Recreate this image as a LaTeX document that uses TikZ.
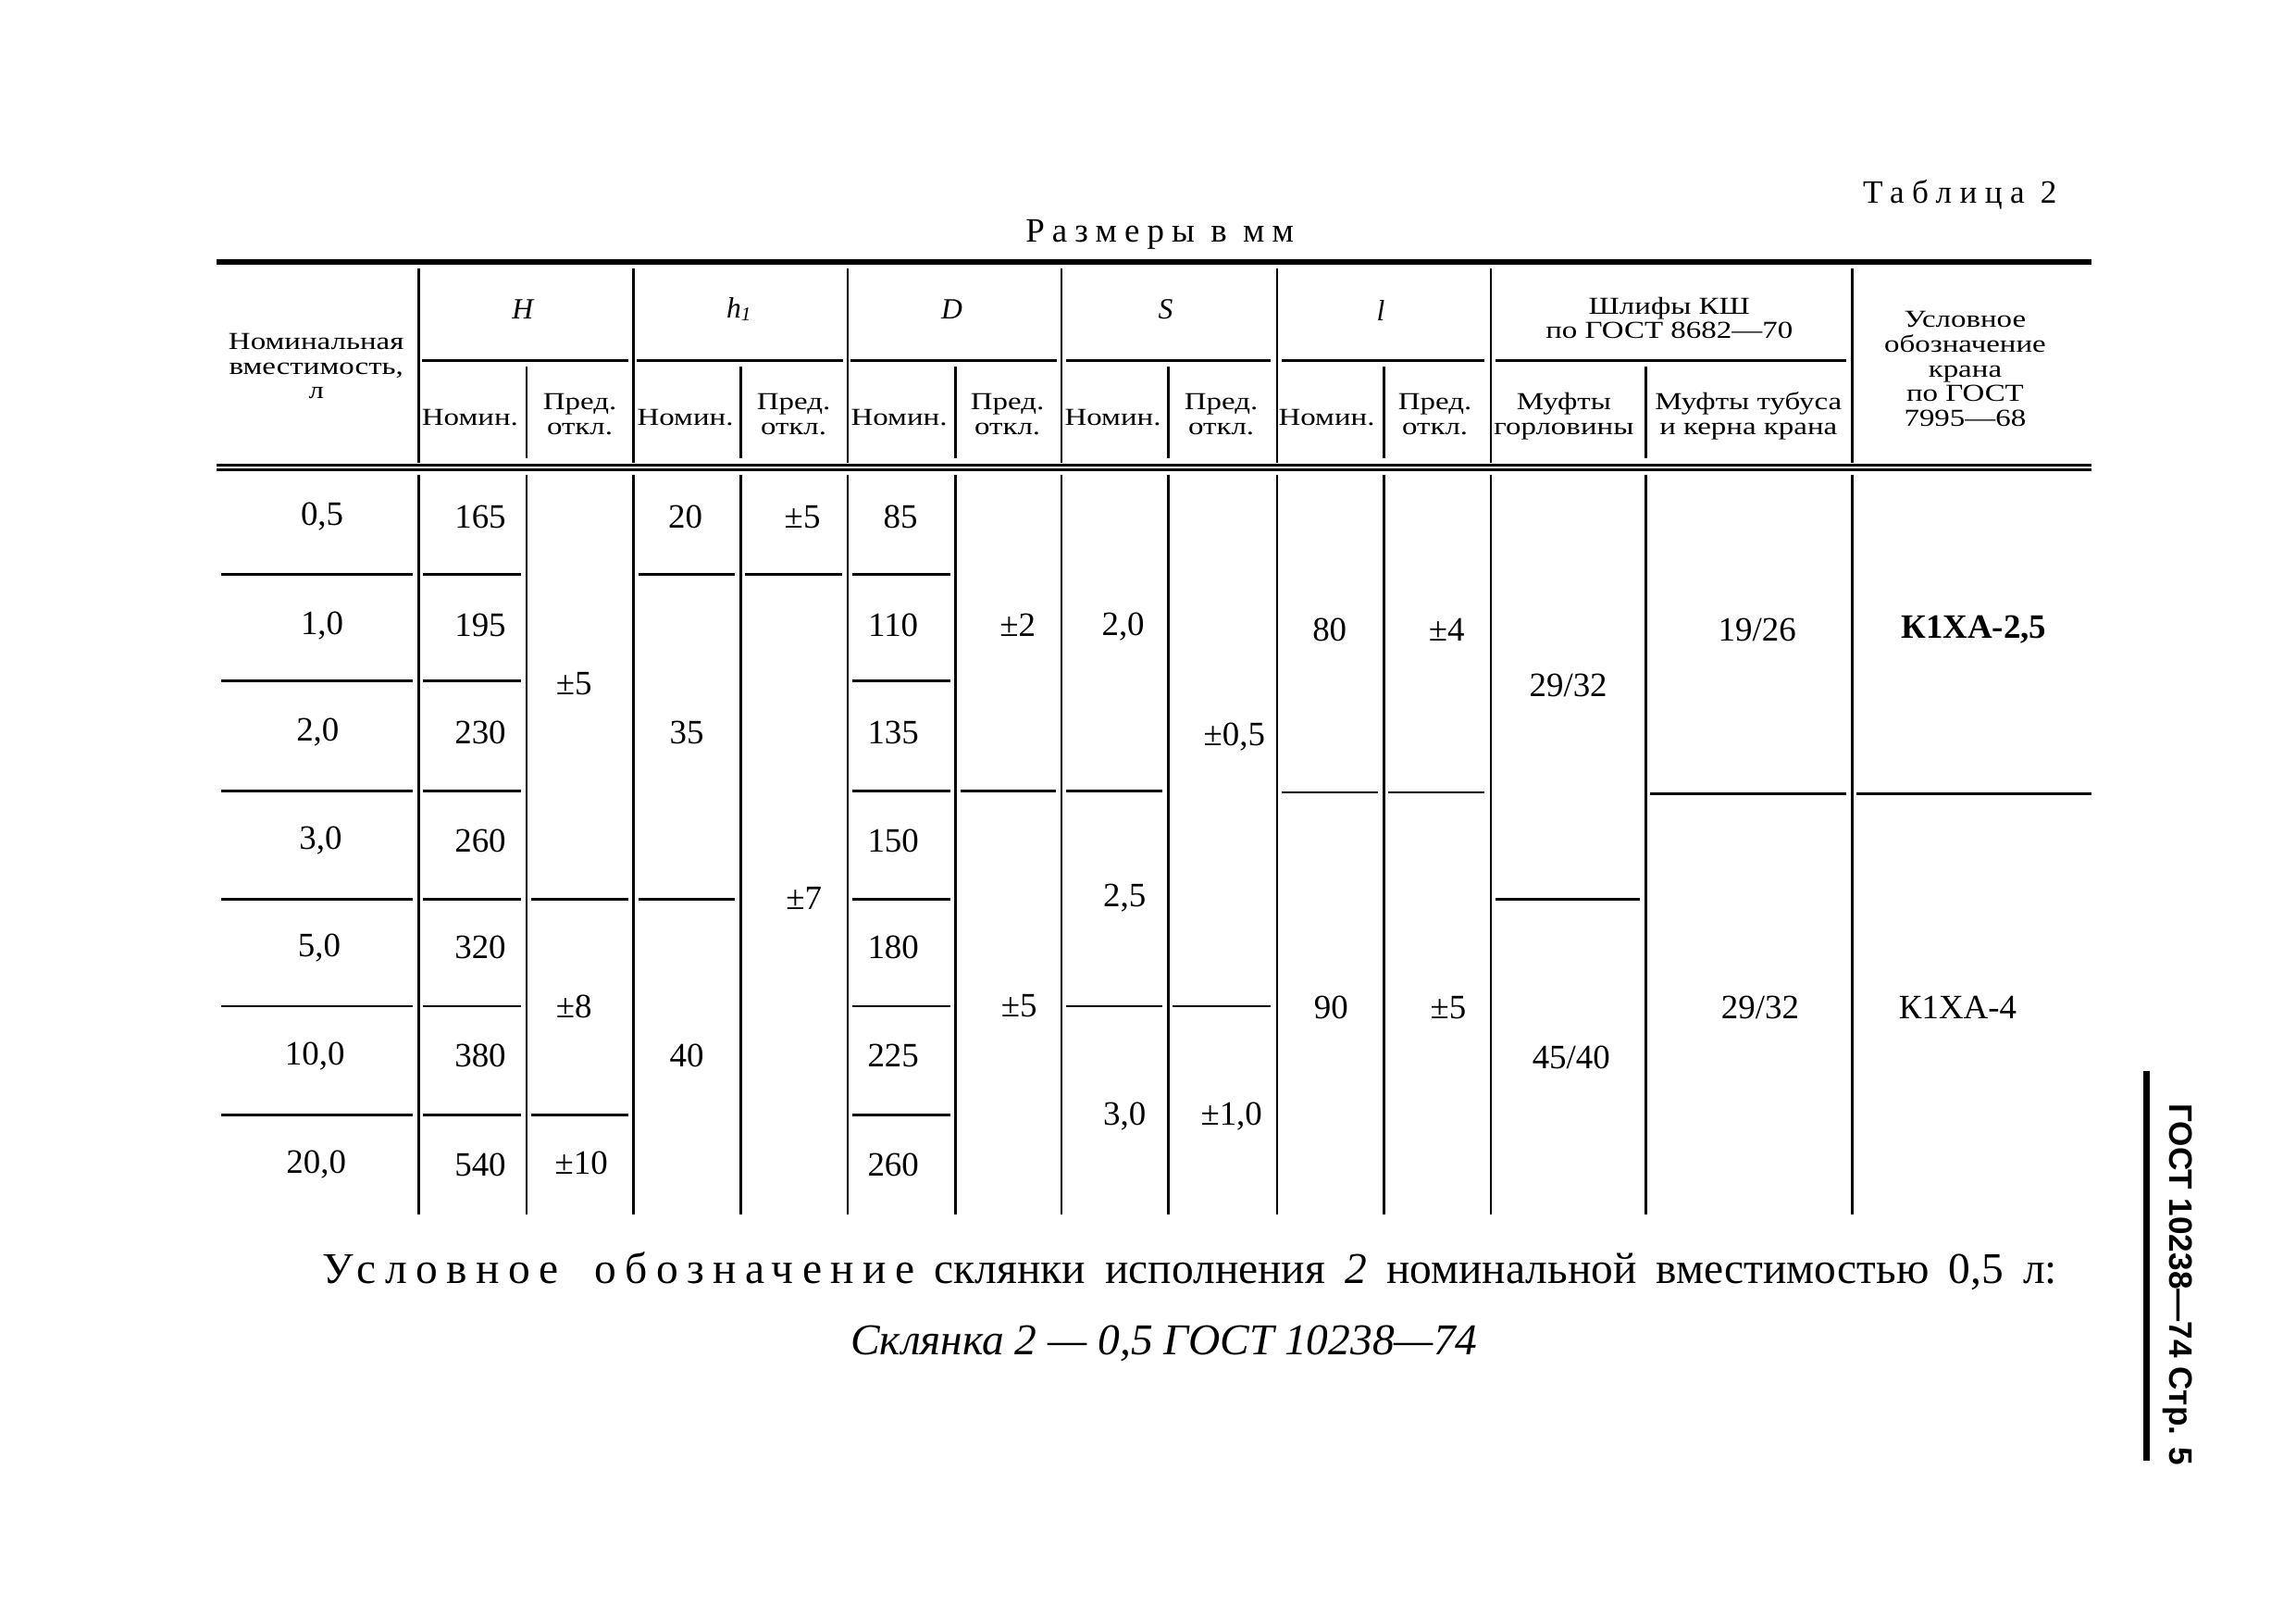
\documentclass[tikz,border=0pt]{standalone}
\usepackage{fontspec}
\setmainfont{Liberation Serif}
\newfontfamily\hdfont{Liberation Serif}[FakeStretch=1.25]
\newfontfamily\sidefont{Liberation Sans}

\tikzset{
  val/.style={inner sep=0pt, font=\fontsize{10.5}{12}\selectfont},
  hd/.style={inner sep=0pt, align=center, font=\hdfont\fontsize{7.5}{7.6}\selectfont},
  sym/.style={inner sep=0pt, font=\fontsize{9}{10}\selectfont\itshape},
  thinrule/.style={line width=0.8pt},
  vrule/.style={line width=0.7pt},
}

\begin{document}
\begin{tikzpicture}[x=0.01582cm, y=-0.01582cm]
\useasboundingbox (0,0) rectangle (1568,1105);

% titles
\node[anchor=east, inner sep=0pt, font=\fontsize{10}{12}\selectfont\addfontfeature{LetterSpace=24}] (tab) at (1405,133) {Таблица 2};
\node[inner sep=0pt, font=\fontsize{10.5}{12}\selectfont\addfontfeature{LetterSpace=22}] (razm) at (792,160) {Размеры в мм};

% rules
\draw[line width=1.6pt] (148,179) -- (1428,179);
\draw[thinrule] (148,317.5) -- (1428,317.5);
\draw[thinrule] (148,321) -- (1428,321);

% header lines
\draw[vrule] (286,183) -- (286,316) (432.5,183) -- (432.5,316) (579,183) -- (579,316)
  (725,183) -- (725,316) (872,183) -- (872,316) (1018,183) -- (1018,316) (1265,183) -- (1265,316);
\draw[vrule] (359.5,250) -- (359.5,313) (506,250) -- (506,313) (652.5,250) -- (652.5,313)
  (798,250) -- (798,313) (945,250) -- (945,313) (1124,250) -- (1124,313);
\draw[thinrule] (288,246) -- (429,246) (435,246) -- (576,246) (581,246) -- (722,246)
  (728,246) -- (868,246) (875,246) -- (1014,246) (1021,246) -- (1261,246);

% header text
\node[hd] (nomcap) at (216,250) {Номинальная\\вместимость,\\л};
\node[sym] (symH) at (357,211) {H};
\node[sym] (symh) at (505,211) {h\textsubscript{1}};
\node[sym] (symD) at (650,211) {D};
\node[sym] (symS) at (796,211) {S};
\node[sym] (syml) at (943,212) {l};
\node[hd, font=\hdfont\fontsize{7.5}{6.4}\selectfont] (shlif) at (1140,217) {Шлифы КШ\\по ГОСТ 8682—70};
\node[hd] (kran) at (1342,252) {Условное\\обозначение\\крана\\по ГОСТ\\7995—68};
\node[hd] (nomH) at (321,285) {Номин.};
\node[hd] (nomh) at (468,285) {Номин.};
\node[hd] (nomD) at (614,285) {Номин.};
\node[hd] (nomS) at (760,285) {Номин.};
\node[hd] (noml) at (906,285) {Номин.};
\node[hd] (predH) at (396,283) {Пред.\\откл.};
\node[hd] (predh) at (542,283) {Пред.\\откл.};
\node[hd] (predD) at (688,283) {Пред.\\откл.};
\node[hd] (predS) at (834,283) {Пред.\\откл.};
\node[hd] (predl) at (980,283) {Пред.\\откл.};
\node[hd] (mgorl) at (1068,284) {Муфты\\горловины};
\node[hd] (mtub) at (1194,284) {Муфты тубуса\\и керна крана};

% body lines
\draw[vrule] (286,324) -- (286,829) (359.5,324) -- (359.5,829) (432.5,324) -- (432.5,829)
  (506,324) -- (506,829) (579,324) -- (579,829) (652.5,324) -- (652.5,829) (725,324) -- (725,829)
  (798,324) -- (798,829) (872,324) -- (872,829) (945,324) -- (945,829) (1018,324) -- (1018,829)
  (1124,324) -- (1124,829) (1265,324) -- (1265,829);
\draw[thinrule] (151,392) -- (282,392) (151,465) -- (282,465) (151,540) -- (282,540)
  (151,614) -- (282,614) (151,687) -- (282,687) (151,761) -- (282,761);
\draw[thinrule] (289,392) -- (356,392) (289,465) -- (356,465) (289,540) -- (356,540)
  (289,614) -- (356,614) (289,687) -- (356,687) (289,761) -- (356,761);
\draw[thinrule] (363,614) -- (429,614) (363,761) -- (429,761);
\draw[thinrule] (436,392) -- (502,392) (436,614) -- (502,614);
\draw[thinrule] (509,392) -- (575,392);
\draw[thinrule] (582,392) -- (649,392) (582,465) -- (649,465) (582,540) -- (649,540)
  (582,614) -- (649,614) (582,687) -- (649,687) (582,761) -- (649,761);
\draw[thinrule] (656,540) -- (721,540);
\draw[thinrule] (728,540) -- (794,540) (728,687) -- (794,687);
\draw[thinrule] (801,687) -- (868,687);
\draw[thinrule] (875,541) -- (941,541);
\draw[thinrule] (948,541) -- (1014,541);
\draw[thinrule] (1021,614) -- (1120,614);
\draw[thinrule] (1127,542) -- (1261,542);
\draw[thinrule] (1268,542) -- (1428,542);

% body values
\node[val] (a1) at (220,353) {0,5};
\node[val] (a2) at (220,427) {1,0};
\node[val] (a3) at (217,500) {2,0};
\node[val] (a4) at (219,574) {3,0};
\node[val] (a5) at (218,647) {5,0};
\node[val] (a6) at (215,721) {10,0};
\node[val] (a7) at (216,795) {20,0};
\node[val] (b1) at (328,353) {165};
\node[val] (b2) at (328,427) {195};
\node[val] (b3) at (328,500) {230};
\node[val] (b4) at (328,574) {260};
\node[val] (b5) at (328,647) {320};
\node[val] (b6) at (328,721) {380};
\node[val] (b7) at (328,795) {540};
\node[val] (c1) at (392,467) {±5};
\node[val] (c2) at (392,687) {±8};
\node[val] (c3) at (397,794) {±10};
\node[val] (d1) at (468,353) {20};
\node[val] (d2) at (469,500) {35};
\node[val] (d3) at (469,721) {40};
\node[val] (e1) at (548,353) {±5};
\node[val] (e2) at (549,613) {±7};
\node[val] (f1) at (615,353) {85};
\node[val] (f2) at (610,427) {110};
\node[val] (f3) at (610,500) {135};
\node[val] (f4) at (610,574) {150};
\node[val] (f5) at (610,647) {180};
\node[val] (f6) at (610,721) {225};
\node[val] (f7) at (610,795) {260};
\node[val] (g1) at (695,427) {±2};
\node[val] (g2) at (696,687) {±5};
\node[val] (h1) at (767,428) {2,0};
\node[val] (h2) at (768,613) {2,5};
\node[val] (h3) at (768,762) {3,0};
\node[val] (i1) at (843,503) {±0,5};
\node[val] (i2) at (841,762) {±1,0};
\node[val] (j1) at (908,430) {80};
\node[val] (j2) at (909,688) {90};
\node[val] (k1) at (988,430) {±4};
\node[val] (k2) at (989,688) {±5};
\node[val] (l1) at (1071,468) {29/32};
\node[val] (l2) at (1073,722) {45/40};
\node[val] (m1) at (1200,430) {19/26};
\node[val] (m2) at (1202,688) {29/32};
\node[val, font=\fontsize{10.5}{12}\selectfont\bfseries] (n1) at (1348,430) {К1ХА-2,5};
\node[val] (n2) at (1337,688) {К1ХА-4};

% designation example
\node[inner sep=0pt, font=\fontsize{13.5}{16}\selectfont] (note) at (812.5,868)
  {\makebox[18.75cm][s]{{\addfontfeature{LetterSpace=20}Условное обозначение} склянки исполнения \textit{2} номинальной вместимостью 0,5 л:}};
\node[inner sep=0pt, font=\fontsize{13.5}{16}\selectfont\itshape] (mark) at (795,917) {Склянка 2 — 0,5 ГОСТ 10238—74};

% page margin
\draw[line width=1.8pt] (1466,731) -- (1466,997);
\node[rotate=-90, inner sep=0pt, font=\sidefont\bfseries\fontsize{10}{12}\selectfont] (side) at (1487,877) {ГОСТ 10238—74 Стр. 5};
\end{tikzpicture}
\end{document}
